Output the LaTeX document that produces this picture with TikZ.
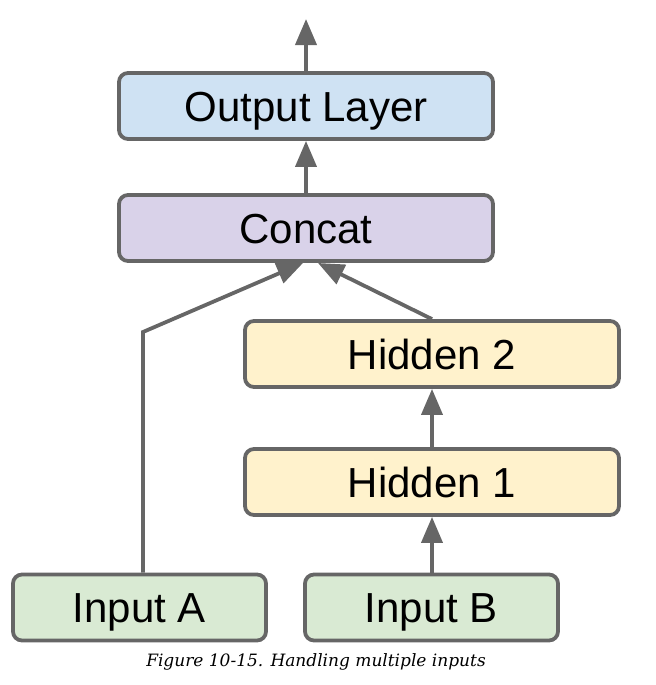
\documentclass[tikz,border=0pt]{standalone}
\usepackage{fontspec}
\setmainfont{Liberation Sans}
\newfontfamily\capfont{DejaVu Serif}
\usetikzlibrary{arrows.meta}
\definecolor{edge}{HTML}{666666}
\definecolor{cblue}{HTML}{CFE2F3}
\definecolor{cpurple}{HTML}{D9D2E9}
\definecolor{cyellow}{HTML}{FFF2CC}
\definecolor{cgreen}{HTML}{D9EAD3}
\tikzset{
  layer/.style={draw=edge, line width=1.9pt, rounded corners=4.5pt, minimum height=33pt, inner sep=0pt, text height=15pt, text depth=0pt, font=\fontsize{21}{24}\selectfont, text=black},
  conn/.style={draw=edge, line width=1.9pt, -{Triangle[length=13pt,width=10.5pt]}},
}
\begin{document}
\begin{tikzpicture}[x=0.5pt,y=-0.5pt]
\useasboundingbox (0,0) rectangle (656,685);
\node[layer, fill=cblue, minimum width=187pt] (out) at (306,106) {Output Layer};
\node[layer, fill=cpurple, minimum width=187pt] (cat) at (306,228) {Concat};
\node[layer, fill=cyellow, minimum width=187pt] (h2) at (432,354) {Hidden 2};
\node[layer, fill=cyellow, minimum width=187pt] (h1) at (432,482) {Hidden 1};
\node[layer, fill=cgreen, minimum width=126.5pt] (ia) at (139.5,607.5) {Input A};
\node[layer, fill=cgreen, minimum width=126.5pt] (ib) at (431.5,607.5) {Input B};
\coordinate (top) at (306,19);
\coordinate (bend) at (143,332);
\coordinate (catL) at (303,263);
\coordinate (catR) at (318,263);
\draw[conn] (out.north) -- (top);
\draw[conn] (cat.north) -- (out.south);
\draw[conn] (h1.north) -- (h2.south);
\draw[conn] (ib.north -| h1.north) -- (h1.south);
\draw[conn] (ia.north -| bend) -- (bend) -- (catL);
\draw[conn] (h2.north) -- (catR);
\node[font=\capfont\itshape\fontsize{8.5}{10}\selectfont] (cap) at (316,662) {Figure 10-15. Handling multiple inputs};
\end{tikzpicture}
\end{document}
